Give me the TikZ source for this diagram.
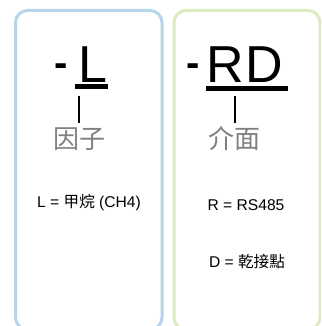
\documentclass[tikz,border=0pt]{standalone}
\usepackage{fontspec}
\setmainfont{Liberation Sans}
\newfontfamily\cjk{Noto Sans CJK TC}
\definecolor{boxblue}{RGB}{181,213,235}
\definecolor{boxgreen}{RGB}{219,235,191}
\definecolor{labgray}{RGB}{128,128,128}
\tikzset{
  panel/.style={rounded corners=12pt, line width=3pt},
  bigcode/.style={inner sep=0pt, anchor=base, font=\fontsize{52}{52}\selectfont},
  bigdash/.style={inner sep=0pt, anchor=base, font=\fontsize{40}{40}\selectfont\bfseries},
  uline/.style={line width=5pt},
  tick/.style={line width=2pt},
  partlabel/.style={inner sep=0pt, text=labgray, font=\fontsize{26}{26}\selectfont\cjk},
  note/.style={inner sep=0pt, anchor=base, font=\fontsize{15.6}{15.6}\selectfont},
}
\begin{document}
\begin{tikzpicture}[x=1pt,y=-1pt]
\useasboundingbox (0,0) rectangle (321,326);
\begin{scope}
\clip (0,0) rectangle (321,326);
\draw[panel, boxblue] (15.5,10.5) rectangle (162,329.5);
\draw[panel, boxgreen] (174,10.5) rectangle (320,329.5);
\end{scope}
% left
\node[bigdash] (d1) at (61,77) {-};
\node[bigcode] (c1) at (92.5,83) {L};
\coordinate (u1a) at (75,87);
\coordinate (u1b) at (108,87);
\draw[uline] (u1a) -- (u1b);
\node[partlabel] (p1) at (79,139.5) {因子};
\coordinate (t1a) at (79,96);
\coordinate (t1b) at (79,123);
\draw[tick] (t1a) -- (t1b);
\node[note] (n1) at (89,207.5) {L = {\cjk 甲烷} (CH4)};
% right
\node[bigdash] (d2) at (193,77) {-};
\node[bigcode] (c2) at (245,83) {R\kern2pt D};
\coordinate (u2a) at (206,89);
\coordinate (u2b) at (288,89);
\draw[uline] (u2a) -- (u2b);
\node[partlabel] (p2) at (234,138.5) {介面};
\coordinate (t2a) at (234.5,96);
\coordinate (t2b) at (234.5,123);
\draw[tick] (t2a) -- (t2b);
\node[note] (n2) at (246,210.5) {R = RS485};
\node[note] (n3) at (247,267.5) {D = {\cjk 乾接點}};
\end{tikzpicture}
\end{document}
